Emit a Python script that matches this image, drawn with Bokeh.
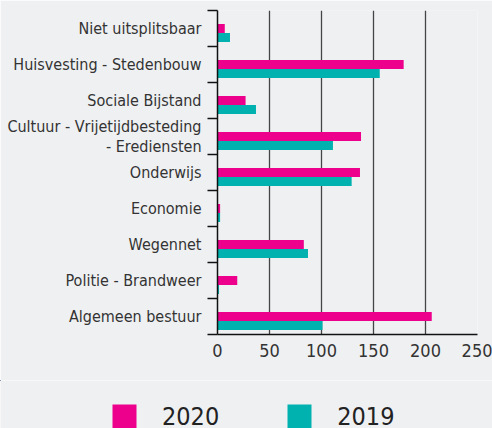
from bokeh.plotting import figure
from bokeh.models import FixedTicker, Range1d, Legend, LegendItem, ColumnDataSource
from bokeh.embed import file_html
from bokeh.resources import INLINE

categories = [
    "Niet uitsplitsbaar",
    "Huisvesting - Stedenbouw",
    "Sociale Bijstand",
    "Cultuur - Vrijetijdbesteding\n- Erediensten",
    "Onderwijs",
    "Economie",
    "Wegennet",
    "Politie - Brandweer",
    "Algemeen bestuur",
]
values_2020 = [7, 179, 27, 138, 137, 2.5, 83, 19, 206]
values_2019 = [12, 156, 37, 111, 129, 2.5, 87, 1.5, 101]
x_ticks = [0, 50, 100, 150, 200, 250]
series_labels = ["2020", "2019"]

BG = "#EFF0F2"
MAGENTA = "#EC008C"
TEAL = "#00B2AF"
FONT = "DejaVu Sans Condensed"
TXT = "#333333"

n = len(categories)
centers = [n - i - 0.5 for i in range(n)]
boundaries = list(range(n + 1))

# one tick per label line (multi-line labels get one tick per line, right-aligned)
label_ticks, label_map = [], {}
for c, lab in zip(centers, categories):
    lines = lab.split("\n")
    k = len(lines)
    for j, line in enumerate(lines):
        t = round(c + (k - 1) / 2 * 0.56 - j * 0.56, 4)
        label_ticks.append(t)
        label_map[t] = line

p = figure(width=492, height=380, output_backend="svg", toolbar_location=None,
           x_range=Range1d(0, 250), y_range=Range1d(0, n),
           min_border_left=217, min_border_right=15, min_border_top=10, min_border_bottom=46,
           background_fill_color=BG, border_fill_color=BG, outline_line_color=None)

src = ColumnDataSource(dict(
    y20=centers,
    y19=[c - 0.25 for c in centers],
    v20=values_2020,
    v19=values_2019,
))
r20 = p.hbar(y="y20", left=0, right="v20", height=0.25, fill_color=MAGENTA, line_color=None, source=src)
r19 = p.hbar(y="y19", left=0, right="v19", height=0.25, fill_color=TEAL, line_color=None, source=src)

# y axis
yax = p.yaxis[0]
yax.ticker = FixedTicker(ticks=label_ticks, minor_ticks=boundaries)
yax.major_label_overrides = label_map
yax.major_tick_line_color = None
yax.major_tick_out = 0
yax.major_tick_in = 0
yax.minor_tick_out = 10
yax.minor_tick_in = 0
yax.minor_tick_line_color = "#111111"
yax.minor_tick_line_width = 1.5
yax.axis_line_color = "#111111"
yax.axis_line_width = 1.5
yax.major_label_standoff = 6
yax.major_label_text_font = FONT
yax.major_label_text_font_size = "16px"
yax.major_label_text_color = TXT

# x axis
xax = p.xaxis[0]
xax.ticker = FixedTicker(ticks=x_ticks)
xax.major_tick_out = 0
xax.major_tick_in = 0
xax.minor_tick_line_color = None
xax.axis_line_color = "#111111"
xax.axis_line_width = 1.5
xax.major_label_standoff = 9
xax.major_label_text_font = FONT
xax.major_label_text_font_size = "18px"
xax.major_label_text_color = TXT

p.xgrid.ticker = FixedTicker(ticks=x_ticks[1:])
p.xgrid.grid_line_color = "#444444"
p.xgrid.grid_line_width = 1.3
p.ygrid.visible = False

# legend strip below the chart (separate root, so its frame spans the full width);
# its ranges keep the key renderers' bars completely out of view
lg = figure(width=492, height=48, output_backend="svg", toolbar_location=None,
            x_range=Range1d(1000, 1001), y_range=Range1d(-2, -1),
            x_axis_location=None, y_axis_location=None,
            min_border=0, background_fill_color=BG, border_fill_color=BG, outline_line_color=None)
lg.grid.visible = False
k20 = lg.hbar(y="y20", left=0, right="v20", height=0.25, fill_color=MAGENTA, line_color=None, source=src)
k19 = lg.hbar(y="y19", left=0, right="v19", height=0.25, fill_color=TEAL, line_color=None, source=src)

legend = Legend(
    items=[LegendItem(label=series_labels[0], renderers=[k20]),
           LegendItem(label=series_labels[1], renderers=[k19])],
    orientation="horizontal", location=(109, -3),
    glyph_width=30, glyph_height=30, label_standoff=23, label_width=56, spacing=65,
    padding=0, margin=0, border_line_color=None, background_fill_alpha=0,
    label_text_font=FONT, label_text_font_size="25px", label_text_color="#222222",
)
lg.add_layout(legend, "center")

open("out.html", "w").write(file_html([p, lg], INLINE))
